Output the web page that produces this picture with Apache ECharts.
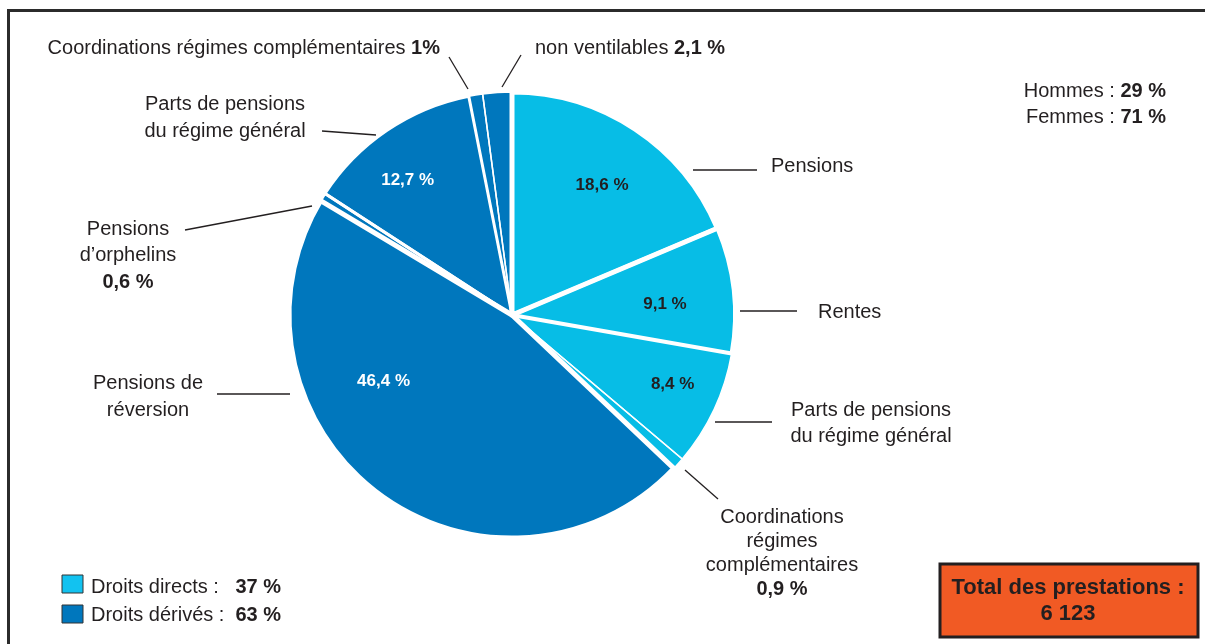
<!DOCTYPE html>
<html>
<head>
<meta charset="utf-8">
<script src="https://cdn.jsdelivr.net/npm/echarts@6/dist/echarts.min.js"></script>
<style>
html,body{margin:0;padding:0;background:#fff;}
#chart{width:1205px;height:644px;}
</style>
</head>
<body>
<div id="chart"></div>
<script>
// ---- data ----
const categories = [
  'Pensions',
  'Rentes',
  'Parts de pensions du régime général (droits directs)',
  'Coordinations régimes complémentaires (droits directs)',
  'Pensions de réversion',
  "Pensions d’orphelins",
  'Parts de pensions du régime général (droits dérivés)',
  'Coordinations régimes complémentaires (droits dérivés)',
  'non ventilables'
];
const values = [18.6, 9.1, 8.4, 0.9, 46.4, 0.6, 12.7, 1, 2.1];
const groups = ['direct', 'direct', 'direct', 'direct', 'derive', 'derive', 'derive', 'derive', 'derive'];
const innerLabels = ['18,6 %', '9,1 %', '8,4 %', '', '46,4 %', '', '12,7 %', '', ''];
const groupShares = { direct: '37 %', derive: '63 %' };
const sexShares = { hommes: '29 %', femmes: '71 %' };
const total = '6 123';

// ---- styles ----
const groupColor = { direct: '#07bde6', derive: '#0077bd' };
const labelColor = { direct: '#231f20', derive: '#ffffff' };
const gapWidths = [5, 4, 1.5, 1.5, 5, 3, 3, 1.5, 1.5];
const TXT = '#231f20';
const FONT = '"Liberation Sans", Arial, Helvetica, sans-serif';

const chart = echarts.init(document.getElementById('chart'));

const mainData = values.map((v, i) => ({
  name: categories[i],
  value: v,
  itemStyle: { color: groupColor[groups[i]] }
}));
const gapData = values.map((v, i) => ({
  name: categories[i],
  value: v,
  itemStyle: { color: 'rgba(0,0,0,0)', borderColor: '#ffffff', borderWidth: gapWidths[i] }
}));
const labelData = values.map((v, i) => ({
  name: categories[i],
  value: v,
  label: {
    show: innerLabels[i] !== '',
    formatter: innerLabels[i],
    color: labelColor[groups[i]]
  }
}));

function t(x, y, text, align, rich, extra) {
  return {
    type: 'text', x: x, y: y, silent: true,
    style: Object.assign({
      text: text, align: align || 'left', verticalAlign: 'middle',
      fill: TXT, font: '20px ' + FONT,
      rich: rich
    }, extra || {})
  };
}
function line(x1, y1, x2, y2) {
  return { type: 'line', silent: true, shape: { x1: x1, y1: y1, x2: x2, y2: y2 },
    style: { stroke: TXT, lineWidth: 1.3 } };
}
const R = (lh) => ({
  n: { fontFamily: FONT, fontSize: 20, color: TXT, lineHeight: lh },
  b: { fontFamily: FONT, fontSize: 20, fontWeight: 'bold', color: TXT, lineHeight: lh }
});

const pieBase = {
  type: 'pie',
  center: [512, 315],
  startAngle: 90,
  clockwise: true,
  silent: true,
  labelLine: { show: false },
  emphasis: { disabled: true }
};

chart.setOption({
  animation: false,
  backgroundColor: '#ffffff',
  series: [
    Object.assign({}, pieBase, {
      radius: [0, 223],
      label: { show: false },
      itemStyle: { borderWidth: 0 },
      data: mainData
    }),
    Object.assign({}, pieBase, {
      radius: [0, 223],
      label: { show: false },
      data: gapData
    }),
    Object.assign({}, pieBase, {
      radius: [120, 200],
      itemStyle: { color: 'rgba(0,0,0,0)' },
      label: {
        position: 'inside',
        fontFamily: FONT,
        fontSize: 17,
        fontWeight: 'bold'
      },
      labelLayout: function (p) {
        if (p.dataIndex === 0) return { dx: 0, dy: 6 };
        if (p.dataIndex === 4) return { dx: -30, dy: -64 };
        if (p.dataIndex === 6) return { dx: -13, dy: 0 };
        if (p.dataIndex === 2) return { dx: 13, dy: 0 };
        if (p.dataIndex === 1) return { dx: -9, dy: 8 };
        return {};
      },
      data: labelData
    })
  ],
  graphic: [
    // frame
    { type: 'polyline', silent: true,
      shape: { points: [[8.5, 650], [8.5, 10.5], [1210, 10.5]] },
      style: { stroke: '#2b2b2b', lineWidth: 3, fill: 'none' } },

    // top labels
    t(440, 48, '{n|Coordinations régimes complémentaires }{b|1%}', 'right', R(24)),
    line(449, 57, 468, 89),
    t(535, 48, '{n|non ventilables }{b|2,1 %}', 'left', R(24)),
    line(521, 55, 502, 87),

    // sex shares
    t(1166, 104, '{n|Hommes : }{b|' + sexShares.hommes + '}\n{n|Femmes : }{b|' + sexShares.femmes + '}', 'right', R(26)),

    // left side labels
    t(225, 117.5, '{n|Parts de pensions}\n{n|du régime général}', 'center', R(27)),
    line(322, 131, 376, 135),
    t(128, 255.5, '{n|Pensions}\n{n|d’orphelins}\n{b|0,6 %}', 'center', R(26.5)),
    line(185, 230, 312, 206),
    t(148, 396.5, '{n|Pensions de}\n{n|réversion}', 'center', R(27)),
    line(217, 394, 290, 394),

    // right side labels
    t(771, 166, '{n|Pensions}', 'left', R(24)),
    line(693, 170, 757, 170),
    t(818, 312, '{n|Rentes}', 'left', R(24)),
    line(740, 311, 797, 311),
    t(871, 423, '{n|Parts de pensions}\n{n|du régime général}', 'center', R(26)),
    line(715, 422, 772, 422),
    t(782, 553, '{n|Coordinations}\n{n|régimes}\n{n|complémentaires}\n{b|0,9 %}', 'center', R(24)),
    line(685, 470, 718, 499),

    // legend
    { type: 'rect', silent: true, shape: { x: 62, y: 575, width: 21, height: 18 },
      style: { fill: '#12c2f0', stroke: '#333', lineWidth: 1 } },
    { type: 'rect', silent: true, shape: { x: 62, y: 605, width: 21, height: 18 },
      style: { fill: groupColor.derive, stroke: '#333', lineWidth: 1 } },
    t(91, 587, '{n|Droits directs :   }{b|' + groupShares.direct + '}', 'left', R(24)),
    t(91, 615, '{n|Droits dérivés :  }{b|' + groupShares.derive + '}', 'left', R(24)),

    // total box
    { type: 'rect', silent: true, shape: { x: 940, y: 564, width: 258, height: 73 },
      style: { fill: '#f15a24', stroke: '#231f20', lineWidth: 3 } },
    t(1068, 601, '{b|Total des prestations :}\n{b|' + total + '}', 'center', {
      b: { fontFamily: FONT, fontSize: 22, fontWeight: 'bold', color: TXT, lineHeight: 26 }
    })
  ]
});
</script>
</body>
</html>
